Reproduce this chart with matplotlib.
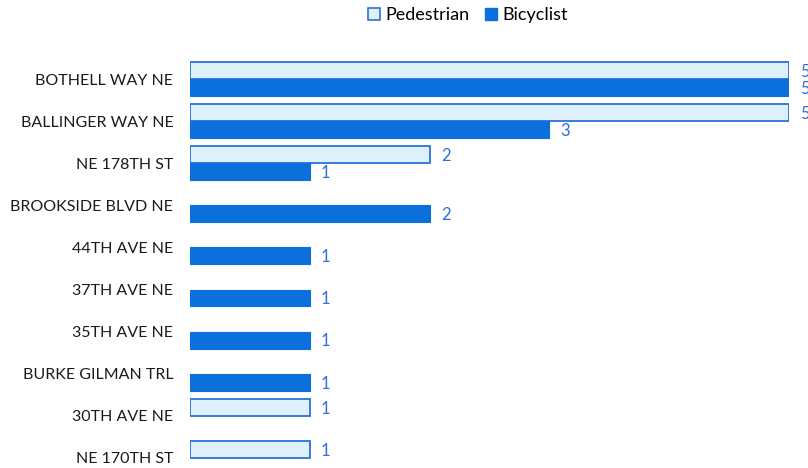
import matplotlib
matplotlib.use("Agg")
import matplotlib.pyplot as plt
from matplotlib.patches import Patch

plt.rcParams['font.family'] = ['Lato', 'DejaVu Sans']

streets = ["BOTHELL WAY NE", "BALLINGER WAY NE", "NE 178TH ST", "BROOKSIDE BLVD NE",
           "44TH AVE NE", "37TH AVE NE", "35TH AVE NE", "BURKE GILMAN TRL",
           "30TH AVE NE", "NE 170TH ST"]
pedestrian = [5, 5, 2, 0, 0, 0, 0, 0, 1, 1]
bicyclist = [5, 3, 1, 2, 1, 1, 1, 1, 0, 0]

ped_fill = "#ddf0fb"
ped_edge = "#2b72d9"
bic_color = "#0b6fdc"
lab_color = "#2f6fd6"

W, H = 808, 468
fig = plt.figure(figsize=(W / 100, H / 100), dpi=100)
# x: 0 -> px 190, 5 -> px 789 ; y: row 0 centre at px 79.5, 42 px per row
left = 190 / W
width = (789 - 190) / W
top_px = 58
ax = fig.add_axes([left, 0, width, 1 - top_px / H])
ax.set_xlim(0, 5)
ax.set_ylim(9 + (H - 458) / 42, -0.5)

h = 0.4
ypos = list(range(len(streets)))
for i in ypos:
    p = pedestrian[i]
    b = bicyclist[i]
    if p > 0:
        ax.barh(i - h / 2, p, height=h, color=ped_fill, edgecolor=ped_edge, linewidth=1.3)
        ax.annotate(str(p), (p, i - h / 2), xytext=(8, -1), textcoords="offset points",
                    ha="left", va="center", color=lab_color, fontsize=12, annotation_clip=False)
    if b > 0:
        ax.barh(i + h / 2, b, height=h, color=bic_color, edgecolor=bic_color, linewidth=0.8)
        ax.annotate(str(b), (b, i + h / 2), xytext=(8, -1), textcoords="offset points",
                    ha="left", va="center", color=lab_color, fontsize=12, annotation_clip=False)

ax.set_yticks(ypos)
ax.set_yticklabels(streets, fontsize=11.5, color="#1a1a1a")
ax.tick_params(axis="y", length=0, pad=12)
ax.set_xticks([])
for s in ax.spines.values():
    s.set_visible(False)

handles = [Patch(facecolor=ped_fill, edgecolor=ped_edge, linewidth=1.2, label="Pedestrian"),
           Patch(facecolor=bic_color, edgecolor=bic_color, label="Bicyclist")]
fig.legend(handles=handles, loc="center", bbox_to_anchor=(468 / W, 1 - 15 / H), ncol=2,
           frameon=False, fontsize=13, handlelength=0.65, handleheight=0.65,
           handletextpad=0.3, columnspacing=0.9)

fig.savefig("out.png", dpi=100)
